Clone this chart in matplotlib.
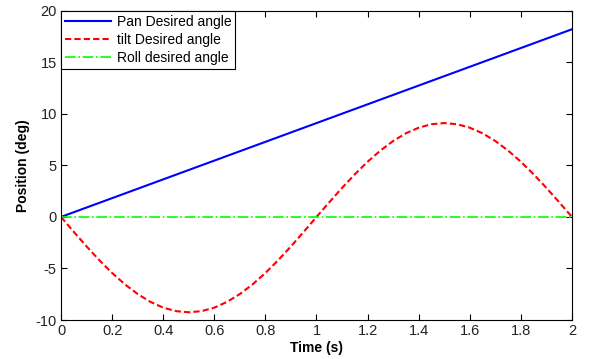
import numpy as np
import matplotlib
matplotlib.use('Agg')
import matplotlib.pyplot as plt

plt.rcParams['font.family'] = ['Liberation Sans', 'DejaVu Sans']
plt.rcParams['axes.unicode_minus'] = False

# time samples (s)
t = [0.0, 0.05, 0.1, 0.15, 0.2, 0.25, 0.3, 0.35, 0.4, 0.45, 0.5,
     0.55, 0.6, 0.65, 0.7, 0.75, 0.8, 0.85, 0.9, 0.95, 1.0,
     1.05, 1.1, 1.15, 1.2, 1.25, 1.3, 1.35, 1.4, 1.45, 1.5,
     1.55, 1.6, 1.65, 1.7, 1.75, 1.8, 1.85, 1.9, 1.95, 2.0]

pan_t = [0.0, 1.0, 2.0]
pan = [0.0, 9.1, 18.2]

tilt = [0.0, -1.45, -2.86, -4.20, -5.44, -6.54, -7.48, -8.24, -8.80, -9.14, -9.25,
        -9.14, -8.80, -8.24, -7.48, -6.54, -5.44, -4.20, -2.86, -1.45, 0.0,
        1.42, 2.81, 4.13, 5.35, 6.43, 7.36, 8.11, 8.65, 8.99, 9.10,
        8.99, 8.65, 8.11, 7.36, 6.43, 5.35, 4.13, 2.81, 1.42, 0.0]

roll_t = [0.0, 2.0]
roll = [0.0, 0.0]

xticks = [0, 0.2, 0.4, 0.6, 0.8, 1, 1.2, 1.4, 1.6, 1.8, 2]
xtick_labels = ['0', '0.2', '0.4', '0.6', '0.8', '1', '1.2', '1.4', '1.6', '1.8', '2']
yticks = [-10, -5, 0, 5, 10, 15, 20]

fig = plt.figure(figsize=(5.89, 3.59), dpi=100)
ax = fig.add_axes([0.1036, 0.1086, 0.8675, 0.8616])

ax.plot(pan_t, pan, color='#0000ff', lw=1.5, label='Pan Desired angle')
ax.plot(t, tilt, color='#ff0000', lw=1.5, ls='--', dashes=(3, 1.5), label='tilt Desired angle')
ax.plot(roll_t, roll, color='#00ff00', lw=1.2, ls='-.', label='Roll desired angle')

ax.set_xlim(0, 2)
ax.set_ylim(-10, 20)
ax.set_xticks(xticks)
ax.set_xticklabels(xtick_labels)
ax.set_yticks(yticks)
ax.tick_params(direction='in', top=True, right=True, length=4, width=0.8,
               labelsize=10.5, pad=3, labelcolor='#222222')
for s in ax.spines.values():
    s.set_linewidth(0.8)

ax.set_xlabel('Time (s)', fontsize=10, fontweight='bold', labelpad=2)
ax.set_ylabel('Position (deg)', fontsize=10, fontweight='bold', labelpad=4)

leg = ax.legend(loc='upper left', fontsize=10, frameon=True, fancybox=False,
                borderaxespad=0, handlelength=3.3, handletextpad=0.4,
                labelspacing=0.3, borderpad=0.3)
leg.get_frame().set_edgecolor('black')
leg.get_frame().set_linewidth(0.8)
leg.get_frame().set_alpha(1)

fig.savefig('out.png', dpi=100)
